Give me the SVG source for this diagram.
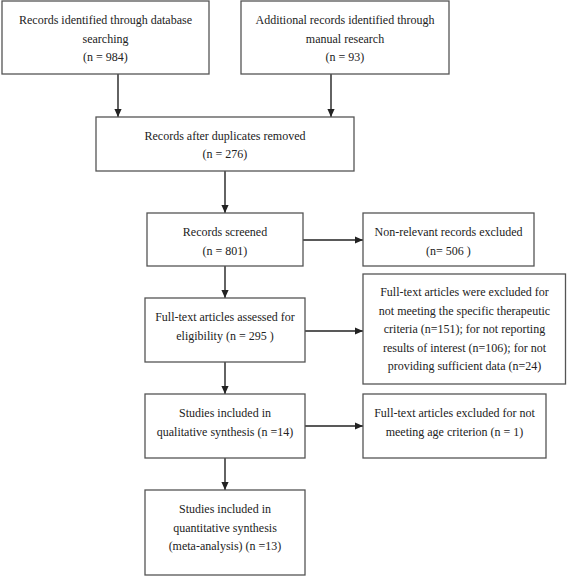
<svg xmlns="http://www.w3.org/2000/svg" width="567" height="577" viewBox="0 0 567 577">
<defs>
<marker id="arr" viewBox="0 0 8 8" refX="8" refY="4" markerWidth="8" markerHeight="8" markerUnits="userSpaceOnUse" orient="auto">
<path d="M0,0.4 L8,4 L0,7.6 Z" fill="#222"/>
</marker>
<style>
.box{fill:#fff;stroke:#555;stroke-width:1.3}
.t{font-family:"Liberation Serif","Times New Roman",serif;font-size:12px;fill:#222;text-anchor:middle}
.c{stroke:#222;stroke-width:1.4;fill:none;marker-end:url(#arr)}
</style>
</defs>
<rect width="567" height="577" fill="#fff"/>
<g id="connectors">
<line class="c" x1="118" y1="74" x2="118" y2="117"/>
<line class="c" x1="331" y1="74" x2="331" y2="117"/>
<line class="c" x1="225" y1="171" x2="225" y2="213"/>
<line class="c" x1="303" y1="240" x2="363" y2="240"/>
<line class="c" x1="225" y1="266" x2="225" y2="298"/>
<line class="c" x1="305" y1="331" x2="363" y2="331"/>
<line class="c" x1="225" y1="362" x2="225" y2="394"/>
<line class="c" x1="305" y1="426" x2="363" y2="426"/>
<line class="c" x1="225" y1="458" x2="225" y2="490"/>
</g>
<g id="n1">
<rect class="box" x="2" y="1" width="207" height="73"/>
<text class="t" x="105.5" y="24">Records identified through database</text>
<text class="t" x="105.5" y="42.5">searching</text>
<text class="t" x="105.5" y="61">(n = 984)</text>
</g>
<g id="n2">
<rect class="box" x="241" y="1" width="208" height="73"/>
<text class="t" x="345" y="24">Additional records identified through</text>
<text class="t" x="345" y="42.5">manual research</text>
<text class="t" x="345" y="61">(n = 93)</text>
</g>
<g id="n3">
<rect class="box" x="96" y="117" width="258" height="54"/>
<text class="t" x="225" y="140">Records after duplicates removed</text>
<text class="t" x="225" y="158">(n = 276)</text>
</g>
<g id="n4">
<rect class="box" x="147" y="213" width="156" height="53"/>
<text class="t" x="225" y="236">Records screened</text>
<text class="t" x="225" y="255">(n = 801)</text>
</g>
<g id="n5">
<rect class="box" x="363" y="213" width="171" height="53"/>
<text class="t" x="448.5" y="236">Non-relevant records excluded</text>
<text class="t" x="448.5" y="255">(n= 506 )</text>
</g>
<g id="n6">
<rect class="box" x="145" y="298" width="160" height="64"/>
<text class="t" x="225" y="321">Full-text articles assessed for</text>
<text class="t" x="225" y="340">eligibility (n = 295 )</text>
</g>
<g id="n7">
<rect class="box" x="363" y="274" width="202.5" height="110"/>
<text class="t" x="464.5" y="296">Full-text articles were excluded for</text>
<text class="t" x="464.5" y="315">not meeting the specific therapeutic</text>
<text class="t" x="464.5" y="333">criteria (n=151); for not reporting</text>
<text class="t" x="464.5" y="352">results of interest (n=106); for not</text>
<text class="t" x="464.5" y="370">providing sufficient data (n=24)</text>
</g>
<g id="n8">
<rect class="box" x="145" y="394" width="160" height="64"/>
<text class="t" x="225" y="417">Studies included in</text>
<text class="t" x="225" y="436">qualitative synthesis (n =14)</text>
</g>
<g id="n9">
<rect class="box" x="363" y="394" width="183" height="64"/>
<text class="t" x="454.5" y="417">Full-text articles excluded for not</text>
<text class="t" x="454.5" y="436">meeting age criterion (n = 1)</text>
</g>
<g id="n10">
<rect class="box" x="145" y="490" width="160" height="85"/>
<text class="t" x="225" y="513">Studies included in</text>
<text class="t" x="225" y="532">quantitative synthesis</text>
<text class="t" x="225" y="550">(meta-analysis) (n =13)</text>
</g>
</svg>
